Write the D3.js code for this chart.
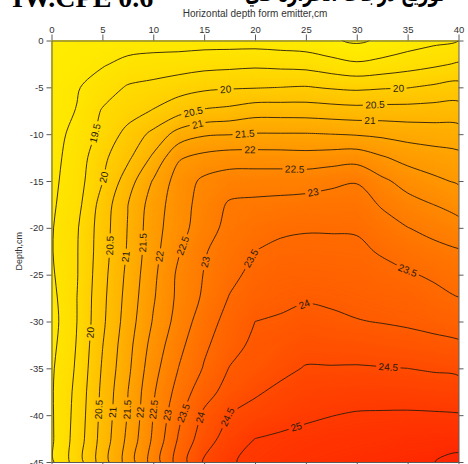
<!DOCTYPE html>
<html>
<head>
<meta charset="utf-8">
<script src="https://cdn.jsdelivr.net/npm/d3@7"></script>
<style>
  html, body { margin: 0; padding: 0; background: #fff; }
  svg { display: block; font-family: "Liberation Sans", Arial, sans-serif; }
</style>
</head>
<body>
<svg id="chart" width="468" height="464"></svg>
<script>
// Grid nodes: horizontal distance from the emitter (cm) and depth (cm)
const gridX = [0, 2.5, 5, 7.5, 10, 12.5, 15, 17.5, 20, 22.5, 25, 27.5, 30, 32.5, 35, 37.5, 40];
const gridDepth = [0, -2.5, -5, -7.5, -10, -12.5, -15, -17.5, -20, -22.5, -25, -27.5, -30, -32.5, -35, -37.5, -40, -42.5, -45];

// Soil temperature (°C), one row per depth, one column per horizontal distance
const temperature = [
  [18.70,18.72,18.74,18.76,18.76,18.76,18.78,18.78,18.78,18.74,18.70,18.56,18.42,18.58,18.75,18.88,19.00],
  [18.72,18.78,18.95,19.13,19.22,19.26,19.33,19.36,19.40,19.36,19.32,19.18,19.06,19.15,19.28,19.40,19.54],
  [18.75,18.96,19.25,19.55,19.64,19.78,19.90,19.95,19.97,20.00,20.03,19.95,19.90,19.95,19.98,20.08,20.17],
  [18.78,19.02,19.54,19.78,20.03,20.33,20.55,20.63,20.78,20.78,20.77,20.72,20.68,20.70,20.70,20.72,20.73],
  [18.82,19.14,19.65,20.16,20.63,21.20,21.44,21.48,21.53,21.53,21.53,21.50,21.46,21.40,21.32,21.27,21.22],
  [18.85,19.22,19.88,20.40,21.09,21.95,22.15,22.25,22.24,22.23,22.20,22.25,22.30,22.05,21.83,21.72,21.63],
  [18.88,19.28,19.98,20.76,21.54,22.23,22.60,22.75,22.78,22.79,22.80,22.90,22.97,22.60,22.31,22.10,21.94],
  [18.92,19.34,20.20,20.99,21.74,22.28,22.70,23.06,23.10,23.13,23.17,23.20,23.22,22.95,22.68,22.50,22.31],
  [18.96,19.45,20.26,21.02,21.81,22.30,22.78,23.15,23.30,23.42,23.46,23.46,23.45,23.20,23.01,22.85,22.68],
  [18.97,19.47,20.28,21.05,21.83,22.46,22.96,23.24,23.50,23.60,23.63,23.62,23.60,23.45,23.28,23.15,23.04],
  [18.93,19.47,20.33,21.12,21.89,22.60,23.02,23.36,23.65,23.77,23.80,23.77,23.74,23.65,23.55,23.43,23.28],
  [18.85,19.50,20.37,21.18,21.95,22.62,23.08,23.53,23.80,23.90,23.96,23.93,23.87,23.82,23.78,23.65,23.51],
  [18.80,19.50,20.40,21.24,22.04,22.70,23.26,23.68,24.00,24.05,24.13,24.08,24.02,23.98,23.93,23.86,23.78],
  [18.86,19.53,20.48,21.33,22.19,22.86,23.41,23.80,24.12,24.20,24.33,24.30,24.28,24.23,24.19,24.13,24.07],
  [18.93,19.57,20.55,21.39,22.32,23.01,23.54,24.02,24.18,24.38,24.53,24.53,24.54,24.52,24.50,24.45,24.40],
  [18.95,19.63,20.61,21.49,22.44,23.19,23.80,24.19,24.44,24.60,24.74,24.77,24.80,24.80,24.78,24.75,24.72],
  [18.94,19.67,20.65,21.53,22.51,23.39,24.09,24.52,24.66,24.80,24.93,24.99,25.04,25.05,25.06,25.05,25.03],
  [18.93,19.71,20.69,21.61,22.58,23.55,24.28,24.71,25.00,25.08,25.12,25.17,25.20,25.23,25.28,25.30,25.32],
  [18.92,19.75,20.75,21.71,22.72,23.72,24.56,24.96,25.10,25.18,25.25,25.30,25.35,25.40,25.45,25.49,25.62]
];

const contourLevels = [18.5, 19, 19.5, 20, 20.5, 21, 21.5, 22, 22.5, 23, 23.5, 24, 24.5, 25, 25.5];
const xTicks = [0, 5, 10, 15, 20, 25, 30, 35, 40];
const yTicks = [0, -5, -10, -15, -20, -25, -30, -35, -40, -45];

const xTitle = "Horizontal depth form emitter,cm";
const yTitle = "Depth,cm";
const captionLeft = "IW.CPE 0.6";
const captionRight = "توزيع درجات الحرارة في";

// Where each contour label sits (cm, cm); it snaps onto its line
const labelSpots = [
  [19.5, 4.3, -9.9],
  [20, 5.1, -14.6], [20, 4.0, -31.2], [20, 17.1, -5.0], [20, 34.1, -5.0],
  [20.5, 5.9, -21.9], [20.5, 4.6, -39.4], [20.5, 13.9, -7.5], [20.5, 31.8, -6.9],
  [21, 7.5, -23.1], [21, 6.05, -39.7], [21, 14.4, -9.1], [21, 31.3, -8.5],
  [21.5, 9.4, -21.6], [21.5, 7.4, -39.4], [21.5, 19.0, -9.9],
  [22, 11.0, -23.1], [22, 8.7, -39.7], [22, 19.5, -11.5],
  [22.5, 12.9, -21.9], [22.5, 10.0, -39.4], [22.5, 23.9, -13.5],
  [23, 15.3, -23.7], [23, 11.4, -40.0], [23, 25.7, -16.1],
  [23.5, 19.5, -23.2], [23.5, 12.8, -39.7], [23.5, 34.9, -24.8],
  [24, 24.9, -28.3], [24, 14.5, -40.2],
  [24.5, 17.3, -40.2], [24.5, 33.1, -34.9],
  [25, 23.9, -40.7]
];

const W = 468, H = 464;
const x = d3.scaleLinear().domain([0, 40]).range([51.5, 458.5]);
const y = d3.scaleLinear().domain([0, -45]).range([40.5, 462]);

const color = d3.scaleLinear()
  .domain([18.4, 19.5, 21, 22.5, 24, 25.7])
  .range(["#fff200", "#ffdc00", "#ffb400", "#ff8a00", "#ff5c00", "#ff2200"])
  .clamp(true);

const svg = d3.select("#chart");
const defs = svg.append("defs");

const nx = gridX.length, ny = gridDepth.length;
const values = temperature.flat();
const stepX = gridX[1] - gridX[0], stepY = gridDepth[1] - gridDepth[0];
// contour space: node i sits at i + 0.5
const gx = c => x(gridX[0] + (c - 0.5) * stepX);
const gy = r => y(gridDepth[0] + (r - 0.5) * stepY);
const projection = d3.geoTransform({
  point(px, py) { this.stream.point(gx(px), gy(py)); }
});
const geoPath = d3.geoPath(projection);

defs.append("clipPath").attr("id", "plotClip")
  .append("rect")
  .attr("x", x(0)).attr("y", y(0))
  .attr("width", x(40) - x(0)).attr("height", y(-45) - y(0));

// ---- colour-filled surface ----
const field = svg.append("g").attr("clip-path", "url(#plotClip)");
field.append("rect")
  .attr("x", x(0)).attr("y", y(0))
  .attr("width", x(40) - x(0)).attr("height", y(-45) - y(0))
  .attr("fill", color(18.3));

const fillStep = 0.025;
const fillThresholds = d3.range(18.3, 25.8, fillStep);
const bands = d3.contours().size([nx, ny]).thresholds(fillThresholds)(values);
field.selectAll("path.band")
  .data(bands)
  .join("path")
  .attr("class", "band")
  .attr("d", geoPath)
  .attr("fill", d => color(d.value + fillStep / 2))
  .attr("stroke", d => color(d.value + fillStep / 2))
  .attr("stroke-width", 0.6);

// ---- contour lines ----
const lineSets = d3.contours().size([nx, ny]).thresholds(contourLevels)(values);
const ringsByLevel = new Map();
lineSets.forEach(mp => {
  const rings = [];
  mp.coordinates.forEach(poly => poly.forEach(ring => {
    const pts = ring.map(([c, r]) => [gx(c), gy(r)]);
    pts.pop();
    rings.push(pts);
  }));
  ringsByLevel.set(mp.value, rings);
});

const lineGen = d3.line().curve(d3.curveCatmullRomClosed.alpha(0.5));

// ---- labels: snap to line, align with it ----
function snap(level, px, py) {
  const rings = ringsByLevel.get(level) || [];
  let best = null;
  rings.forEach(pts => {
    const n = pts.length;
    for (let i = 0; i < n; i++) {
      const a = pts[i], b = pts[(i + 1) % n];
      const vx = b[0] - a[0], vy = b[1] - a[1];
      const L2 = vx * vx + vy * vy || 1e-9;
      let t = ((px - a[0]) * vx + (py - a[1]) * vy) / L2;
      t = Math.max(0, Math.min(1, t));
      const qx = a[0] + t * vx, qy = a[1] + t * vy;
      const d = (qx - px) ** 2 + (qy - py) ** 2;
      if (!best || d < best.d) best = { d, qx, qy, vx, vy };
    }
  });
  if (!best) return { x: px, y: py, angle: 0 };
  let ang = Math.atan2(best.vy, best.vx) * 180 / Math.PI;
  while (ang > 85) ang -= 180;
  while (ang <= -95) ang += 180;
  return { x: best.qx, y: best.qy, angle: ang };
}

const placed = labelSpots.map(([level, cx, cy]) => {
  const s = snap(level, x(cx), y(cy));
  return { level, ...s };
});

const labelGroup = svg.append("g").attr("clip-path", "url(#plotClip)");
const labelText = labelGroup.selectAll("text")
  .data(placed)
  .join("text")
  .attr("transform", d => `translate(${d.x},${d.y}) rotate(${d.angle})`)
  .attr("text-anchor", "middle")
  .attr("dy", "0.35em")
  .attr("font-size", 10)
  .attr("fill", "#2a1a0a")
  .text(d => String(d.level));

const mask = defs.append("mask").attr("id", "labelGaps")
  .attr("maskUnits", "userSpaceOnUse")
  .attr("x", 0).attr("y", 0).attr("width", W).attr("height", H);
mask.append("rect").attr("x", 0).attr("y", 0).attr("width", W).attr("height", H).attr("fill", "white");
labelText.each(function (d) {
  const w = this.getComputedTextLength() + 5;
  mask.append("rect")
    .attr("x", -w / 2).attr("y", -5.5).attr("width", w).attr("height", 11)
    .attr("transform", `translate(${d.x},${d.y}) rotate(${d.angle})`)
    .attr("fill", "black");
});

const lineOuter = svg.insert("g", () => labelGroup.node()).attr("clip-path", "url(#plotClip)");
const lineInner = lineOuter.append("g").attr("mask", "url(#labelGaps)");
contourLevels.forEach(level => {
  (ringsByLevel.get(level) || []).forEach(pts => {
    lineInner.append("path")
      .attr("d", lineGen(pts))
      .attr("fill", "none")
      .attr("stroke", "#2b1d0e")
      .attr("stroke-width", 0.9)
      .attr("stroke-linejoin", "round");
  });
});

// ---- axes ----
function styleAxis(g) {
  g.selectAll(".domain").attr("stroke", "#5a5a5a").attr("stroke-width", 1);
  g.selectAll(".tick line").attr("stroke", "#5a5a5a");
  g.selectAll(".tick text").attr("fill", "#333").attr("font-size", 9.5)
    .attr("font-family", "'Liberation Sans', Arial, sans-serif");
}
svg.append("g").attr("transform", `translate(0,${y(0)})`)
  .call(d3.axisTop(x).tickValues(xTicks).tickSize(6).tickSizeOuter(0).tickPadding(2).tickFormat(d => String(d)))
  .call(styleAxis);
svg.append("g").attr("transform", `translate(0,${y(-45)})`)
  .call(d3.axisBottom(x).tickValues(xTicks).tickSize(5).tickSizeOuter(0).tickFormat(() => ""))
  .call(styleAxis);
svg.append("g").attr("transform", `translate(${x(0)},0)`)
  .call(d3.axisLeft(y).tickValues(yTicks).tickSize(5).tickSizeOuter(0).tickPadding(3).tickFormat(d => String(d)))
  .call(styleAxis);
svg.append("g").attr("transform", `translate(${x(40)},0)`)
  .call(d3.axisRight(y).tickValues(yTicks).tickSize(5).tickSizeOuter(0).tickFormat(() => ""))
  .call(styleAxis);

svg.append("text")
  .attr("x", (x(0) + x(40)) / 2).attr("y", 17)
  .attr("text-anchor", "middle")
  .attr("font-size", 10).attr("fill", "#333")
  .text(xTitle);

svg.append("text")
  .attr("transform", `translate(22,${y(-22.5)}) rotate(-90)`)
  .attr("text-anchor", "middle")
  .attr("font-size", 9).attr("fill", "#333")
  .text(yTitle);

// caption line above the chart (runs off the top edge)
svg.append("text")
  .attr("x", 12).attr("y", 7)
  .attr("font-family", "'Liberation Serif', 'Times New Roman', serif")
  .attr("font-weight", "bold").attr("font-size", 28).attr("fill", "#000")
  .text(captionLeft);
svg.append("text")
  .attr("x", 445).attr("y", 1)
  .attr("text-anchor", "end")
  .attr("font-family", "'DejaVu Sans', sans-serif")
  .attr("font-weight", "bold").attr("font-size", 24).attr("fill", "#000")
  .attr("textLength", 200).attr("lengthAdjust", "spacingAndGlyphs")
  .text(captionRight);
</script>
</body>
</html>
